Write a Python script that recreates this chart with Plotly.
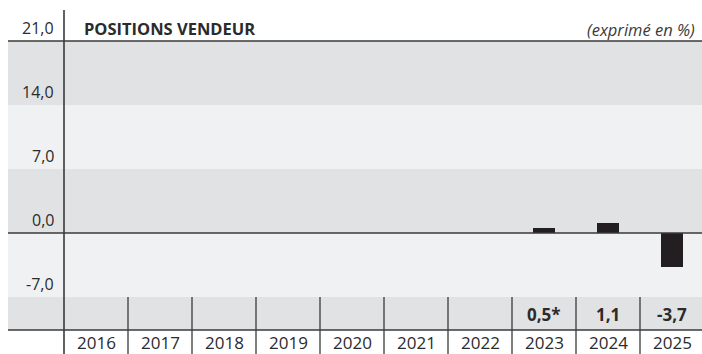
import plotly.graph_objects as go

years = ["2016", "2017", "2018", "2019", "2020", "2021", "2022", "2023", "2024", "2025"]
values = [None, None, None, None, None, None, None, 0.5, 1.1, -3.7]
value_labels = ["", "", "", "", "", "", "", "0,5*", "1,1", "-3,7"]
y_ticks = [21, 14, 7, 0, -7]
y_tick_labels = ["21,0", "14,0", "7,0", "0,0", "-7,0"]
title_text = "POSITIONS VENDEUR"
unit_text = "(exprimé en %)"

W, H = 702, 354
PX_X = 64.0          # px per column
PX_Y = 64.0 / 7.0    # px per y unit
def xd(px):
    return -1.5 + px / PX_X
def yd(py):
    return 21 + (41 - py) / PX_Y

FONT = "Open Sans"
TXT = "#2b2b2b"
GRAY = "#e1e2e4"
LIGHT = "#f0f1f3"
LINE = "#3a3a3a"

x_idx = list(range(len(years)))

fig = go.Figure()
fig.add_trace(go.Bar(
    x=x_idx, y=values, width=22 / PX_X,
    marker=dict(color="#231f20", line=dict(width=0)),
    hoverinfo="skip",
))

shapes = []
x_left = xd(8)
x_right = xd(W + 2)
bands = [(21, 14, GRAY), (14, 7, LIGHT), (7, 0, GRAY), (0, -7, LIGHT)]
for y0, y1, c in bands:
    shapes.append(dict(type="rect", xref="x", yref="y", x0=x_left, x1=x_right,
                       y0=y1, y1=y0, fillcolor=c, line=dict(width=0), layer="below"))
val_row_bottom = yd(330)
shapes.append(dict(type="rect", xref="x", yref="y", x0=x_left, x1=x_right,
                   y0=val_row_bottom, y1=-7, fillcolor=GRAY, line=dict(width=0), layer="below"))
for yv in [21, 0, val_row_bottom]:
    shapes.append(dict(type="line", xref="x", yref="y", x0=x_left, x1=x_right,
                       y0=yv, y1=yv, line=dict(color=LINE, width=1.6), layer="above"))
for i in range(1, len(years)):
    xs = i - 0.5
    shapes.append(dict(type="line", xref="x", yref="y", x0=xs, x1=xs,
                       y0=-7, y1=yd(H + 2), line=dict(color=LINE, width=1.3), layer="above"))
shapes.append(dict(type="line", xref="x", yref="y", x0=-0.5, x1=-0.5,
                   y0=yd(10), y1=yd(H + 2), line=dict(color=LINE, width=1.6), layer="above"))

annotations = []
for t, lab in zip(y_ticks, y_tick_labels):
    annotations.append(dict(x=xd(56), y=t, xref="x", yref="y", text=lab, showarrow=False,
                            xanchor="right", yanchor="bottom", yshift=0,
                            font=dict(family=FONT, size=16, color=TXT)))
for i, (yr, vl) in enumerate(zip(years, value_labels)):
    annotations.append(dict(x=i, y=yd(342), xref="x", yref="y", text=yr, showarrow=False,
                            xanchor="center", yanchor="middle",
                            font=dict(family=FONT, size=17, color=TXT)))
    if vl:
        annotations.append(dict(x=i, y=yd(314), xref="x", yref="y", text="<b>" + vl + "</b>",
                                showarrow=False, xanchor="center", yanchor="middle",
                                font=dict(family=FONT, size=17, color=TXT)))
annotations.append(dict(x=xd(82), y=yd(28), xref="x", yref="y", text="<b>" + title_text + "</b>",
                        showarrow=False, xanchor="left", yanchor="middle",
                        font=dict(family=FONT, size=16.5, color=TXT)))
annotations.append(dict(x=xd(697), y=yd(29), xref="x", yref="y", text="<i>" + unit_text + "</i>",
                        showarrow=False, xanchor="right", yanchor="middle",
                        font=dict(family=FONT, size=16.5, color="#3a3a3a")))

fig.update_layout(
    width=W, height=H,
    margin=dict(l=0, r=0, t=0, b=0),
    paper_bgcolor="white", plot_bgcolor="white",
    showlegend=False,
    xaxis=dict(range=[xd(0), xd(W)], visible=False, fixedrange=True),
    yaxis=dict(range=[yd(H), yd(0)], visible=False, fixedrange=True),
    shapes=shapes, annotations=annotations,
    bargap=0,
)
fig.write_html("out.html", config={"displayModeBar": False},
               post_script="document.body.style.margin='0';document.body.style.overflow='hidden';")
